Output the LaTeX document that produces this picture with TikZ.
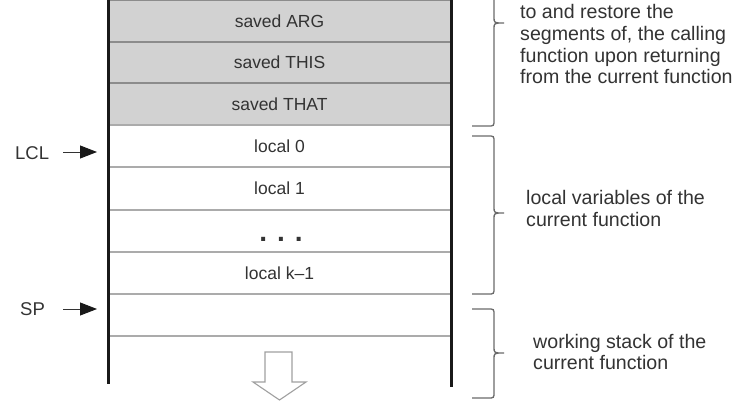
\documentclass[tikz,border=0pt]{standalone}
\usepackage{fontspec}
\setmainfont{Liberation Sans}
\usetikzlibrary{arrows.meta}
\definecolor{cellgray}{HTML}{D2D2D2}
\definecolor{txt}{HTML}{333333}
\definecolor{rulegray}{HTML}{8C8C8C}
\definecolor{rulewhite}{HTML}{ABABAB}
\definecolor{bracec}{HTML}{6A6A6A}
\definecolor{hollow}{HTML}{A0A0A0}
\begin{document}
\begin{tikzpicture}[x=1pt,y=-1pt,
  every node/.style={text=txt},
  cell/.style={font=\fontsize{17.5}{20}\selectfont, inner sep=0pt},
  note/.style={font=\fontsize{19.6}{22}\selectfont, anchor=base west, inner sep=0pt},
  label/.style={font=\fontsize{18.5}{22}\selectfont, inner sep=0pt},
  ptr/.style={draw=txt, line width=0.9pt, -{Triangle[length=17pt,width=13pt,color=black!90]}},
  bracestyle/.style={draw=bracec, line width=1.3pt},
  stackwall/.style={draw=black!90, line width=3pt},
  rowline/.style={line width=1.3pt}]
\useasboundingbox (0,0) rectangle (732,402);
\clip (0,0) rectangle (732,402);
\fill[white] (0,0) rectangle (732,402);
% gray saved rows
\fill[cellgray] (108,0) rectangle (451,125);
\foreach \y in {0.6,42,83} \draw[rowline, draw=rulegray] (108,\y) -- (451,\y);
\foreach \y in {125,167,210,252,294,336} \draw[rowline, draw=rulewhite] (108,\y) -- (451,\y);
% walls
\draw[stackwall] (108,0) -- (108,384);
\draw[stackwall] (451,0) -- (451,387);
% cell texts
\node[cell] (arg)  at (279.5,21)   {saved ARG};
\node[cell] (this) at (279.5,62.5) {saved THIS};
\node[cell] (that) at (279.5,104)  {saved THAT};
\node[cell] (l0)   at (279.5,146)  {local 0};
\node[cell] (l1)   at (279.5,188.5){local 1};
\node[cell, anchor=base, font=\fontsize{28}{28}\selectfont\bfseries] (dots) at (281,241) {.\hspace{10pt}.\hspace{10pt}.};
\node[cell] (lk)   at (279.5,273)  {local k–1};
% pointers
\node[label, anchor=west] (lcl) at (15,153) {LCL};
\node[label, anchor=west] (sp)  at (20,309) {SP};
\coordinate (lclstart) at (63,152);
\coordinate (lclend)   at (97,152);
\coordinate (spstart)  at (63,309);
\coordinate (spend)    at (97,309);
\draw[ptr] (lclstart) -- (lclend);
\draw[ptr] (spstart) -- (spend);
% hollow arrow (growth direction)
\draw[draw=hollow, line width=1.1pt, fill=white, line join=miter]
  (265,352) -- (292,352) -- (292,382) -- (306,382) -- (279.5,400) -- (253,382) -- (265,382) -- cycle;
% braces
\draw[bracestyle] (472,-80) -- (488,-80) .. controls (494,-80) .. (494,-74) -- (494,17)
  .. controls (494,23) .. (504,23) .. controls (494,23) .. (494,29) -- (494,120)
  .. controls (494,126) .. (488,126) -- (472,126);
\draw[bracestyle] (472,136) -- (488,136) .. controls (494,136) .. (494,142) -- (494,207)
  .. controls (494,213) .. (504,213) .. controls (494,213) .. (494,219) -- (494,288)
  .. controls (494,294) .. (488,294) -- (472,294);
\draw[bracestyle] (472,309) -- (488,309) .. controls (494,309) .. (494,315) -- (494,347)
  .. controls (494,353) .. (504,353) .. controls (494,353) .. (494,359) -- (494,392)
  .. controls (494,398) .. (488,398) -- (472,398);
% notes
\node[note] (n1) at (520,18) {to and restore the};
\node[note] (n2) at (520,40) {segments of, the calling};
\node[note] (n3) at (520,62) {function upon returning};
\node[note] (n4) at (520,83.5) {from the current function};
\node[note] (n5) at (526,204) {local variables of the};
\node[note] (n6) at (526,226) {current function};
\node[note] (n7) at (533,348) {working stack of the};
\node[note] (n8) at (533,369.5) {current function};
\end{tikzpicture}
\end{document}
